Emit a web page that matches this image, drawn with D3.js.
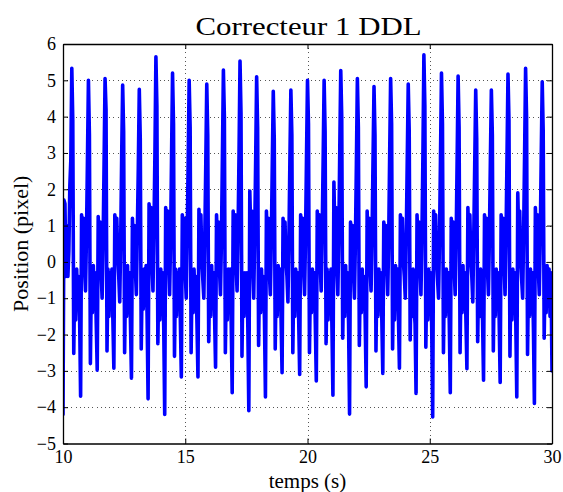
<!DOCTYPE html>
<html><head><meta charset="utf-8">
<script src="https://cdn.jsdelivr.net/npm/d3@7/dist/d3.min.js"></script>
<style>
body{margin:0;background:#fff}
text{font-family:"Liberation Serif","Times New Roman",serif;fill:#000}
</style>
</head><body>
<svg id="chart" width="563" height="492"></svg>
<script>
const title = "Correcteur 1 DDL";
const xLabel = "temps (s)";
const yLabel = "Position (pixel)";
const xTicks = [10, 15, 20, 25, 30];
const yTicks = [-5, -4, -3, -2, -1, 0, 1, 2, 3, 4, 5, 6];
const tStart = 10;
const sampleStep = 0.04; // s
// position samples (pixel), one every 0.04 s from t = 10 s to t = 30 s
const position = [
  -4.2, 1.7, 1.6, -0.4, 1.0, -0.4, 0.3, 2.1, 2.8,
  5.33, 3.9, -2.52, -0.3, -1.6, -0.2, -1.3, -0.4, -1.5, -3.7, 1.3, 0.6, 1.2, -0.2, -0.8, 0.7, 2.8,
  5.0, 3.5, -2.8, -0.4, -1.4, -0.1, -1.1, -0.3, -1.7, -2.98, 1.25, 0.4, 1.1, -0.3, -1.0, 0.5, 2.7,
  5.05, 4.2, -2.45, -0.2, -1.5, -0.3, -1.3, -0.2, -1.6, -2.93, 1.3, 0.5, 1.2, 0.1, -0.4, -1.1, 0.6, 2.9,
  4.87, 3.6, -2.5, -0.3, -1.5, -0.1, -1.4, -0.3, -1.7, -3.2, 1.2, 0.4, 1.0, -0.2, -0.9, 0.8, 2.6,
  4.75, 3.4, -2.4, -0.4, -1.3, -0.2, -1.2, -0.1, -1.5, -3.77, 1.6, 0.7, 1.5, -0.1, -0.8, 0.9, 3.0,
  5.65, 4.3, -2.25, -0.3, -1.6, -0.2, -1.3, -0.3, -1.8, -4.2, 1.5, 0.6, 1.4, 0.0, -0.9, 0.6, 2.9,
  5.2, 3.8, -2.6, -0.2, -1.5, -0.3, -1.1, -0.2, -1.6, -3.17, 1.3, 0.5, 1.2, -0.3, -1.0, 0.7, 2.8,
  5.0, 3.7, -2.5, -0.3, -1.4, -0.2, -1.3, -0.4, -1.7, -3.17, 1.45, 0.6, 1.3, 0.0, -0.5, -1.0, 0.7, 2.7,
  4.9, 3.5, -2.2, -0.3, -1.5, -0.1, -1.2, -0.3, -1.5, -2.9, 1.3, 0.5, 1.1, -0.2, -0.9, 0.6, 2.9,
  5.28, 4.0, -2.5, -0.4, -1.6, -0.2, -1.3, -0.2, -1.7, -3.6, 1.4, 0.6, 1.3, -0.1, -0.8, 0.8, 3.0,
  5.53, 4.1, -2.6, -0.3, -1.5, -0.3, -1.2, -0.3, -1.8, -4.1, 1.95, 0.8, 1.4, -0.2, -1.0, 0.7, 2.8,
  5.1, 3.7, -2.3, -0.2, -1.4, -0.2, -1.3, -0.4, -1.6, -3.72, 1.4, 0.5, 1.2, -0.3, -0.9, 0.6, 2.7,
  4.7, 3.4, -2.4, -0.3, -1.5, -0.1, -1.2, -0.2, -1.6, -3.05, 1.2, 0.4, 1.1, 0.0, -0.4, -1.1, 0.6, 2.8,
  4.73, 3.5, -2.5, -0.3, -1.5, -0.2, -1.3, -0.3, -1.6, -3.1, 1.3, 0.5, 1.2, -0.2, -0.9, 0.7, 2.9,
  5.0, 3.8, -2.5, -0.4, -1.4, -0.2, -1.2, -0.3, -1.7, -3.28, 1.4, 0.6, 1.3, -0.1, -0.8, 0.8, 2.8,
  5.0, 3.6, -2.25, -0.2, -1.6, -0.3, -1.3, -0.2, -1.8, -3.67, 2.2, 0.7, 1.5, -0.2, -0.9, 0.7, 3.1,
  5.27, 4.0, -2.1, -0.3, -1.5, -0.1, -1.2, -0.3, -1.7, -4.19, 1.1, 0.4, 1.0, -0.3, -1.0, 0.6, 2.7,
  5.05, 3.7, -2.3, -0.3, -1.4, -0.2, -1.3, -0.4, -1.6, -3.44, 1.4, 0.5, 1.2, -0.2, -0.8, 0.7, 2.8,
  4.83, 3.5, -2.45, -0.2, -1.5, -0.2, -1.2, -0.3, -1.6, -3.07, 1.1, 0.4, 1.0, -0.1, -0.9, 0.6, 2.9,
  5.05, 3.8, -2.4, -0.3, -1.6, -0.1, -1.3, -0.2, -1.5, -2.93, 1.3, 0.5, 1.2, 0.0, -0.4, -1.0, 0.7, 2.8,
  4.9, 3.6, -2.15, -0.3, -1.5, -0.2, -1.3, -1.7, -3.62, 1.3, 0.5, 1.1, -0.2, -0.9, 0.7, 2.9,
  5.7, 4.3, -2.35, -0.3, -1.6, -0.2, -1.3, -0.3, -1.8, -4.27, 1.4, 0.6, 1.3, 0.0, -0.5, -1.0, 0.7, 2.9,
  5.2, 3.8, -2.5, -0.2, -1.5, -0.2, -1.2, -0.3, -1.7, -3.6, 1.2, 0.5, 1.1, -0.2, -0.9, 0.6, 2.8,
  5.12, 3.7, -2.5, -0.3, -1.4, -0.1, -1.3, -0.3, -1.6, -2.94, 1.5, 0.6, 1.3, 0.0, -0.4, -1.1, 0.7, 2.7,
  4.73, 3.4, -2.2, -0.3, -1.5, -0.2, -1.3, -1.6, -3.26, 1.3, 0.5, 1.2, -0.2, -0.9, 0.7, 2.8,
  4.73, 3.5, -2.45, -0.3, -1.5, -0.2, -1.2, -0.3, -1.6, -3.32, 1.3, 0.5, 1.2, -0.1, -0.9, 0.7, 2.9,
  5.17, 3.9, -2.6, -0.3, -1.6, -0.2, -1.3, -0.3, -1.7, -3.72, 1.9, 0.7, 1.4, 0.0, -0.5, -1.0, 0.8, 3.0,
  5.33, 4.0, -2.55, -0.3, -1.5, -0.2, -1.3, -0.3, -1.8, -3.9, 1.5, 0.6, 1.3, -0.2, -0.9, 0.7, 2.9,
  4.96, 3.6, -2.1, -0.2, -1.4, -0.1, -1.2, -0.2, -1.5, -0.3, -3.0
];

const m = {left: 63, right: 552, top: 44, bottom: 443.5};
const svg = d3.select("#chart");
const x = d3.scaleLinear().domain([10, 30]).range([m.left, m.right]);
const y = d3.scaleLinear().domain([-5, 6]).range([m.bottom, m.top]);

// grid
const grid = svg.append("g").attr("stroke", "#555").attr("stroke-width", 1)
  .attr("stroke-dasharray", "1,3.2").attr("shape-rendering", "crispEdges");
grid.selectAll("line.gx").data(xTicks.slice(1, -1)).join("line")
  .attr("class", "gx")
  .attr("x1", d => Math.round(x(d)) + 0.5).attr("x2", d => Math.round(x(d)) + 0.5)
  .attr("y1", m.top).attr("y2", m.bottom);
grid.selectAll("line.gy").data(yTicks.slice(1, -1)).join("line")
  .attr("class", "gy")
  .attr("y1", d => Math.round(y(d)) + 0.5).attr("y2", d => Math.round(y(d)) + 0.5)
  .attr("x1", m.left).attr("x2", m.right);

// clip + line
svg.append("clipPath").attr("id", "clip").append("rect")
  .attr("x", m.left).attr("y", m.top).attr("width", m.right - m.left).attr("height", m.bottom - m.top);
const line = d3.line().x((d, i) => x(tStart + i * sampleStep)).y(d => y(d));
svg.append("path").datum(position).attr("clip-path", "url(#clip)")
  .attr("fill", "none").attr("stroke", "#0000ff").attr("stroke-width", 3.6)
  .attr("stroke-linejoin", "round").attr("stroke-linecap", "round")
  .attr("d", line);

// axes (MATLAB style: ticks inside, box)
const tl = 5;
const axB = svg.append("g").attr("transform", `translate(0,${m.bottom})`)
  .call(d3.axisBottom(x).tickValues(xTicks).tickSize(-tl).tickPadding(7).tickSizeOuter(0));
const axT = svg.append("g").attr("transform", `translate(0,${m.top})`)
  .call(d3.axisTop(x).tickValues(xTicks).tickSize(-tl).tickFormat("").tickSizeOuter(0));
const axL = svg.append("g").attr("transform", `translate(${m.left},0)`)
  .call(d3.axisLeft(y).tickValues(yTicks).tickSize(-tl).tickPadding(7).tickSizeOuter(0));
const axR = svg.append("g").attr("transform", `translate(${m.right},0)`)
  .call(d3.axisRight(y).tickValues(yTicks).tickSize(-tl).tickFormat("").tickSizeOuter(0));
[axB, axT, axL, axR].forEach(a => {
  a.select(".domain").attr("stroke", "#000").attr("stroke-width", 1.3);
  a.selectAll(".tick line").attr("stroke", "#000").attr("stroke-width", 1);
  a.selectAll("text").attr("font-family", "Liberation Serif, serif").attr("font-size", 18).attr("fill", "#000");
});

// labels
svg.append("text").attr("x", (m.left + m.right) / 2 + 1).attr("y", 35)
  .attr("text-anchor", "middle").attr("font-size", 26)
  .attr("textLength", 226).attr("lengthAdjust", "spacingAndGlyphs").text(title);
svg.append("text").attr("x", (m.left + m.right) / 2).attr("y", 488)
  .attr("text-anchor", "middle").attr("font-size", 21).text(xLabel);
svg.append("text").attr("transform", `translate(28,${(m.top + m.bottom) / 2}) rotate(-90)`)
  .attr("text-anchor", "middle").attr("font-size", 22).text(yLabel);
</script>
</body></html>
